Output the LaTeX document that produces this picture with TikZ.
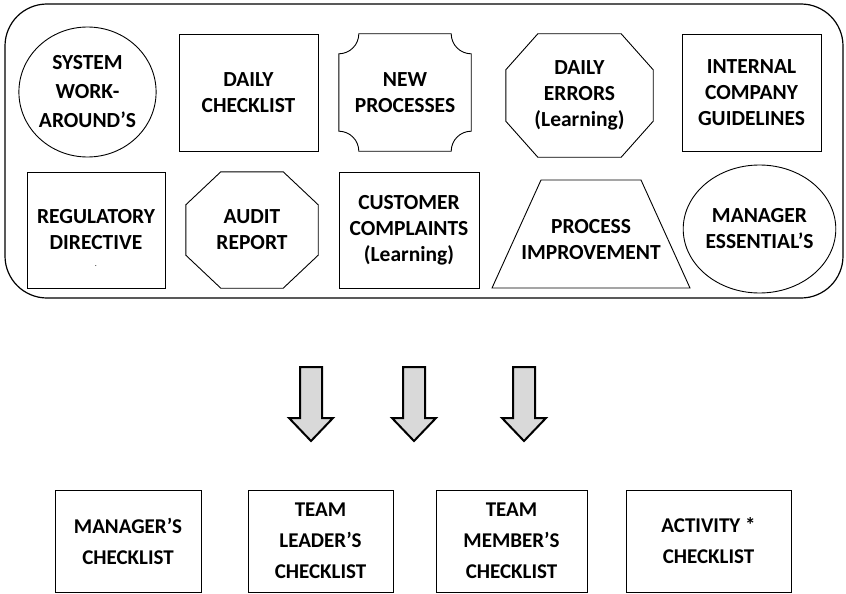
\documentclass[tikz,border=0pt]{standalone}
\usepackage{fontspec}
\setmainfont{Carlito}
\usetikzlibrary{shapes.geometric,calc}

\newcommand{\cutcorners}[3]{%
  \draw[line width=0.9pt] ($(#1.north west)+(#2,0)$) -- ($(#1.north east)+(-#2,0)$) -- ($(#1.north east)+(0,#3)$)
    -- ($(#1.south east)+(0,-#3)$) -- ($(#1.south east)+(-#2,0)$) -- ($(#1.south west)+(#2,0)$)
    -- ($(#1.south west)+(0,-#3)$) -- ($(#1.north west)+(0,#3)$) -- cycle;}

\begin{document}
\begin{tikzpicture}[x=1pt,y=-1pt,
    every node/.style={font=\bfseries\fontsize{21.5}{26}\selectfont,align=center,inner sep=0pt},
    box/.style={draw,line width=0.9pt,rectangle,minimum width=139pt,minimum height=117pt},
    oval/.style={draw,line width=0.9pt,ellipse,minimum width=137pt,minimum height=130pt},
    listbox/.style={draw,line width=1pt,rectangle,minimum height=102pt,font=\bfseries\fontsize{21}{31}\selectfont},
    blockarrow/.style={draw,line width=2pt,fill=black!15,line join=miter}]
            \useasboundingbox (0,0) rectangle (846,594);
            \draw (424,151) node[draw,line width=1.2pt,rounded corners=42pt,minimum width=838pt,minimum height=294pt] (pool) {};
            \draw (87.5,92)  node[oval] (sys) {SYSTEM\\[3pt]WORK-\\[3pt]AROUND’S};
            \draw (248.5,92.5) node[box] (dc) {DAILY\\CHECKLIST};
            \draw (405,92.5) node[minimum width=132pt,minimum height=117pt] (np) {NEW\\PROCESSES};
            \draw (579.5,95.5) node[minimum width=147pt,minimum height=123pt] (de) {DAILY\\ERRORS\\(Learning)};
            \draw (751.5,92.5) node[box] (icg) {INTERNAL\\COMPANY\\GUIDELINES};
            \draw (96,230)   node[box,minimum width=138pt,minimum height=116pt,label={[yshift=-36pt,font=\fontsize{8}{8}\selectfont]center:.}] (rd) {REGULATORY\\DIRECTIVE};
            \draw (252,230)  node[minimum width=132pt,minimum height=116pt] (ar) {AUDIT\\REPORT};
            \draw (409,230)  node[box,minimum width=140pt,minimum height=116pt] (cc) {CUSTOMER\\COMPLAINTS\\(Learning)};
            \draw (591,234)  node[draw,line width=0.9pt,trapezium,trapezium left angle=65.6,trapezium right angle=65.6,inner xsep=50pt,inner ysep=54pt,label={[yshift=-6pt]center:{PROCESS\\IMPROVEMENT}}] (pi) {};
            \draw (759.5,229) node[oval,minimum height=128pt] (me) {MANAGER\\ESSENTIAL’S};
            \cutcorners{de}{32}{36}
            \cutcorners{ar}{35}{33}
            \draw[line width=0.9pt] ($(np.north west)+(20,0)$) -- ($(np.north east)+(-20,0)$)
                  .. controls ($(np.north east)+(-20,11)$) and ($(np.north east)+(-11,20)$) .. ($(np.north east)+(0,20)$)
                  -- ($(np.south east)+(0,-20)$)
                  .. controls ($(np.south east)+(-11,-20)$) and ($(np.south east)+(-20,-11)$) .. ($(np.south east)+(-20,0)$)
                  -- ($(np.south west)+(20,0)$)
                  .. controls ($(np.south west)+(20,-11)$) and ($(np.south west)+(11,-20)$) .. ($(np.south west)+(0,-20)$)
                  -- ($(np.north west)+(0,20)$)
                  .. controls ($(np.north west)+(11,20)$) and ($(np.north west)+(20,11)$) .. cycle;
            \foreach \x in {311,414,524}
                \draw[blockarrow] (\x-11,367) -- (\x+11,367) -- (\x+11,418) -- (\x+22,418) -- (\x,441) -- (\x-22,418) -- (\x-11,418) -- cycle;
            \draw (128,541)   node[listbox,minimum width=146pt] (mc) {MANAGER’S\\CHECKLIST};
            \draw (320.5,541) node[listbox,minimum width=145pt] (tlc) {TEAM\\LEADER’S\\CHECKLIST};
            \draw (511.5,541) node[listbox,minimum width=151pt] (tmc) {TEAM\\MEMBER’S\\CHECKLIST};
            \draw (708.5,541) node[listbox,minimum width=165pt] (ac) {ACTIVITY *\\CHECKLIST};
        \end{tikzpicture}
\end{document}
